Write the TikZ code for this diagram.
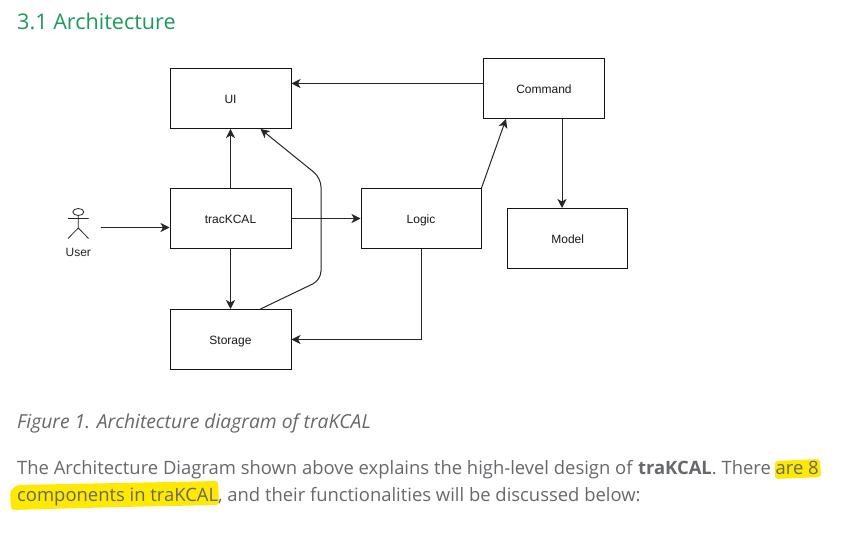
\documentclass[tikz,border=0pt]{standalone}
\usepackage{fontspec}
\setmainfont{Open Sans}
\newfontfamily\diagfont{Liberation Sans}
\usetikzlibrary{arrows.meta,calc}
\definecolor{headgreen}{HTML}{1D9A5B}
\definecolor{bodygrey}{HTML}{66696C}
\definecolor{hilite}{HTML}{FFE900}
\tikzset{
  comp/.style={draw=black!92,line width=1pt,minimum width=121pt,minimum height=60pt,inner sep=0pt,fill=white,font=\diagfont\fontsize{12}{14}\selectfont,text=black!90,text height=11.6pt,text depth=2pt},
  conn/.style={draw=black!85,line width=1pt,-{Stealth[length=9pt,width=9pt,inset=2.5pt]}},
  para/.style={anchor=base west,inner sep=0pt,text=bodygrey,font=\fontsize{18.42}{22}\selectfont}
}
\begin{document}
\begin{tikzpicture}[x=1pt,y=-1pt]
\useasboundingbox[fill=white] (0,0) rectangle (844,553);
% highlight
\fill[hilite,rounded corners=3pt] (775,461) -- (820,459) -- (821,477) -- (775,479) -- cycle;
\fill[hilite,rounded corners=3pt] (17,485) -- (120,483) -- (218,481) -- (219,505) -- (120,507) -- (11,510) -- (10,491) -- cycle;
% heading and text
\node[anchor=base west,inner sep=0pt,text=headgreen,font=\fontsize{21.6}{26}\selectfont] (head) at (17,30) {3.1 Architecture};
\node[para,font=\itshape\fontsize{19.3}{23}\selectfont] (cap) at (17,428.7) {Figure 1. Architecture diagram of traKCAL};
\node[para] (l1) at (17,474) {The Architecture Diagram shown above explains the high-level design of \textbf{traKCAL}. There are 8};
\node[para] (l2) at (17,501) {components in traKCAL, and their functionalities will be discussed below:};
% components
\node[comp] (ui) at (230.5,98.5) {UI};
\node[comp] (track) at (230.5,218.5) {tracKCAL};
\node[comp,minimum width=120pt] (logic) at (421,218.5) {Logic};
\node[comp] (storage) at (230.5,339.5) {Storage};
\node[comp] (cmd) at (544,88.5) {Command};
\node[comp,minimum width=120pt] (model) at (567.7,238.5) {Model};
% actor
\draw[line width=0.8pt,draw=black!85] (78.3,212) ellipse [x radius=5.5,y radius=3.5];
\coordinate (neck) at (78.3,215.5);
\coordinate (hip) at (78.3,228);
\draw[line width=0.8pt,draw=black!85] (neck) -- (hip) (68,218.5) -- (88.5,218.5) (68,238.5) -- (hip) -- (88.5,238.5);
\node[inner sep=0pt,font=\diagfont\fontsize{12}{14}\selectfont,text=black!85] (user) at (78.3,252) {User};
\coordinate (userout) at (100.5,227.5);
% connectors
\draw[conn] (userout) -- (track.west |- userout);
\draw[conn] (track.north) -- (ui.south);
\draw[conn] ([yshift=5pt]cmd.west) -- ([yshift=15pt]ui.east);
\draw[conn] (track.east) -- (logic.west);
\draw[conn] (track.south) -- (storage.north);
\draw[conn,rounded corners=9pt] ([xshift=30pt]storage.north) -- (321,280) -- (321,178) -- ([xshift=30pt]ui.south);
\draw[conn,rounded corners=0pt] (logic.south) -- (logic.south |- storage.east) -- (storage.east);
\draw[conn] (logic.north east) -- ([xshift=-38pt]cmd.south);
\draw[conn] ([xshift=18pt]cmd.south) -- (model.north -| 562,0);
\end{tikzpicture}
\end{document}
